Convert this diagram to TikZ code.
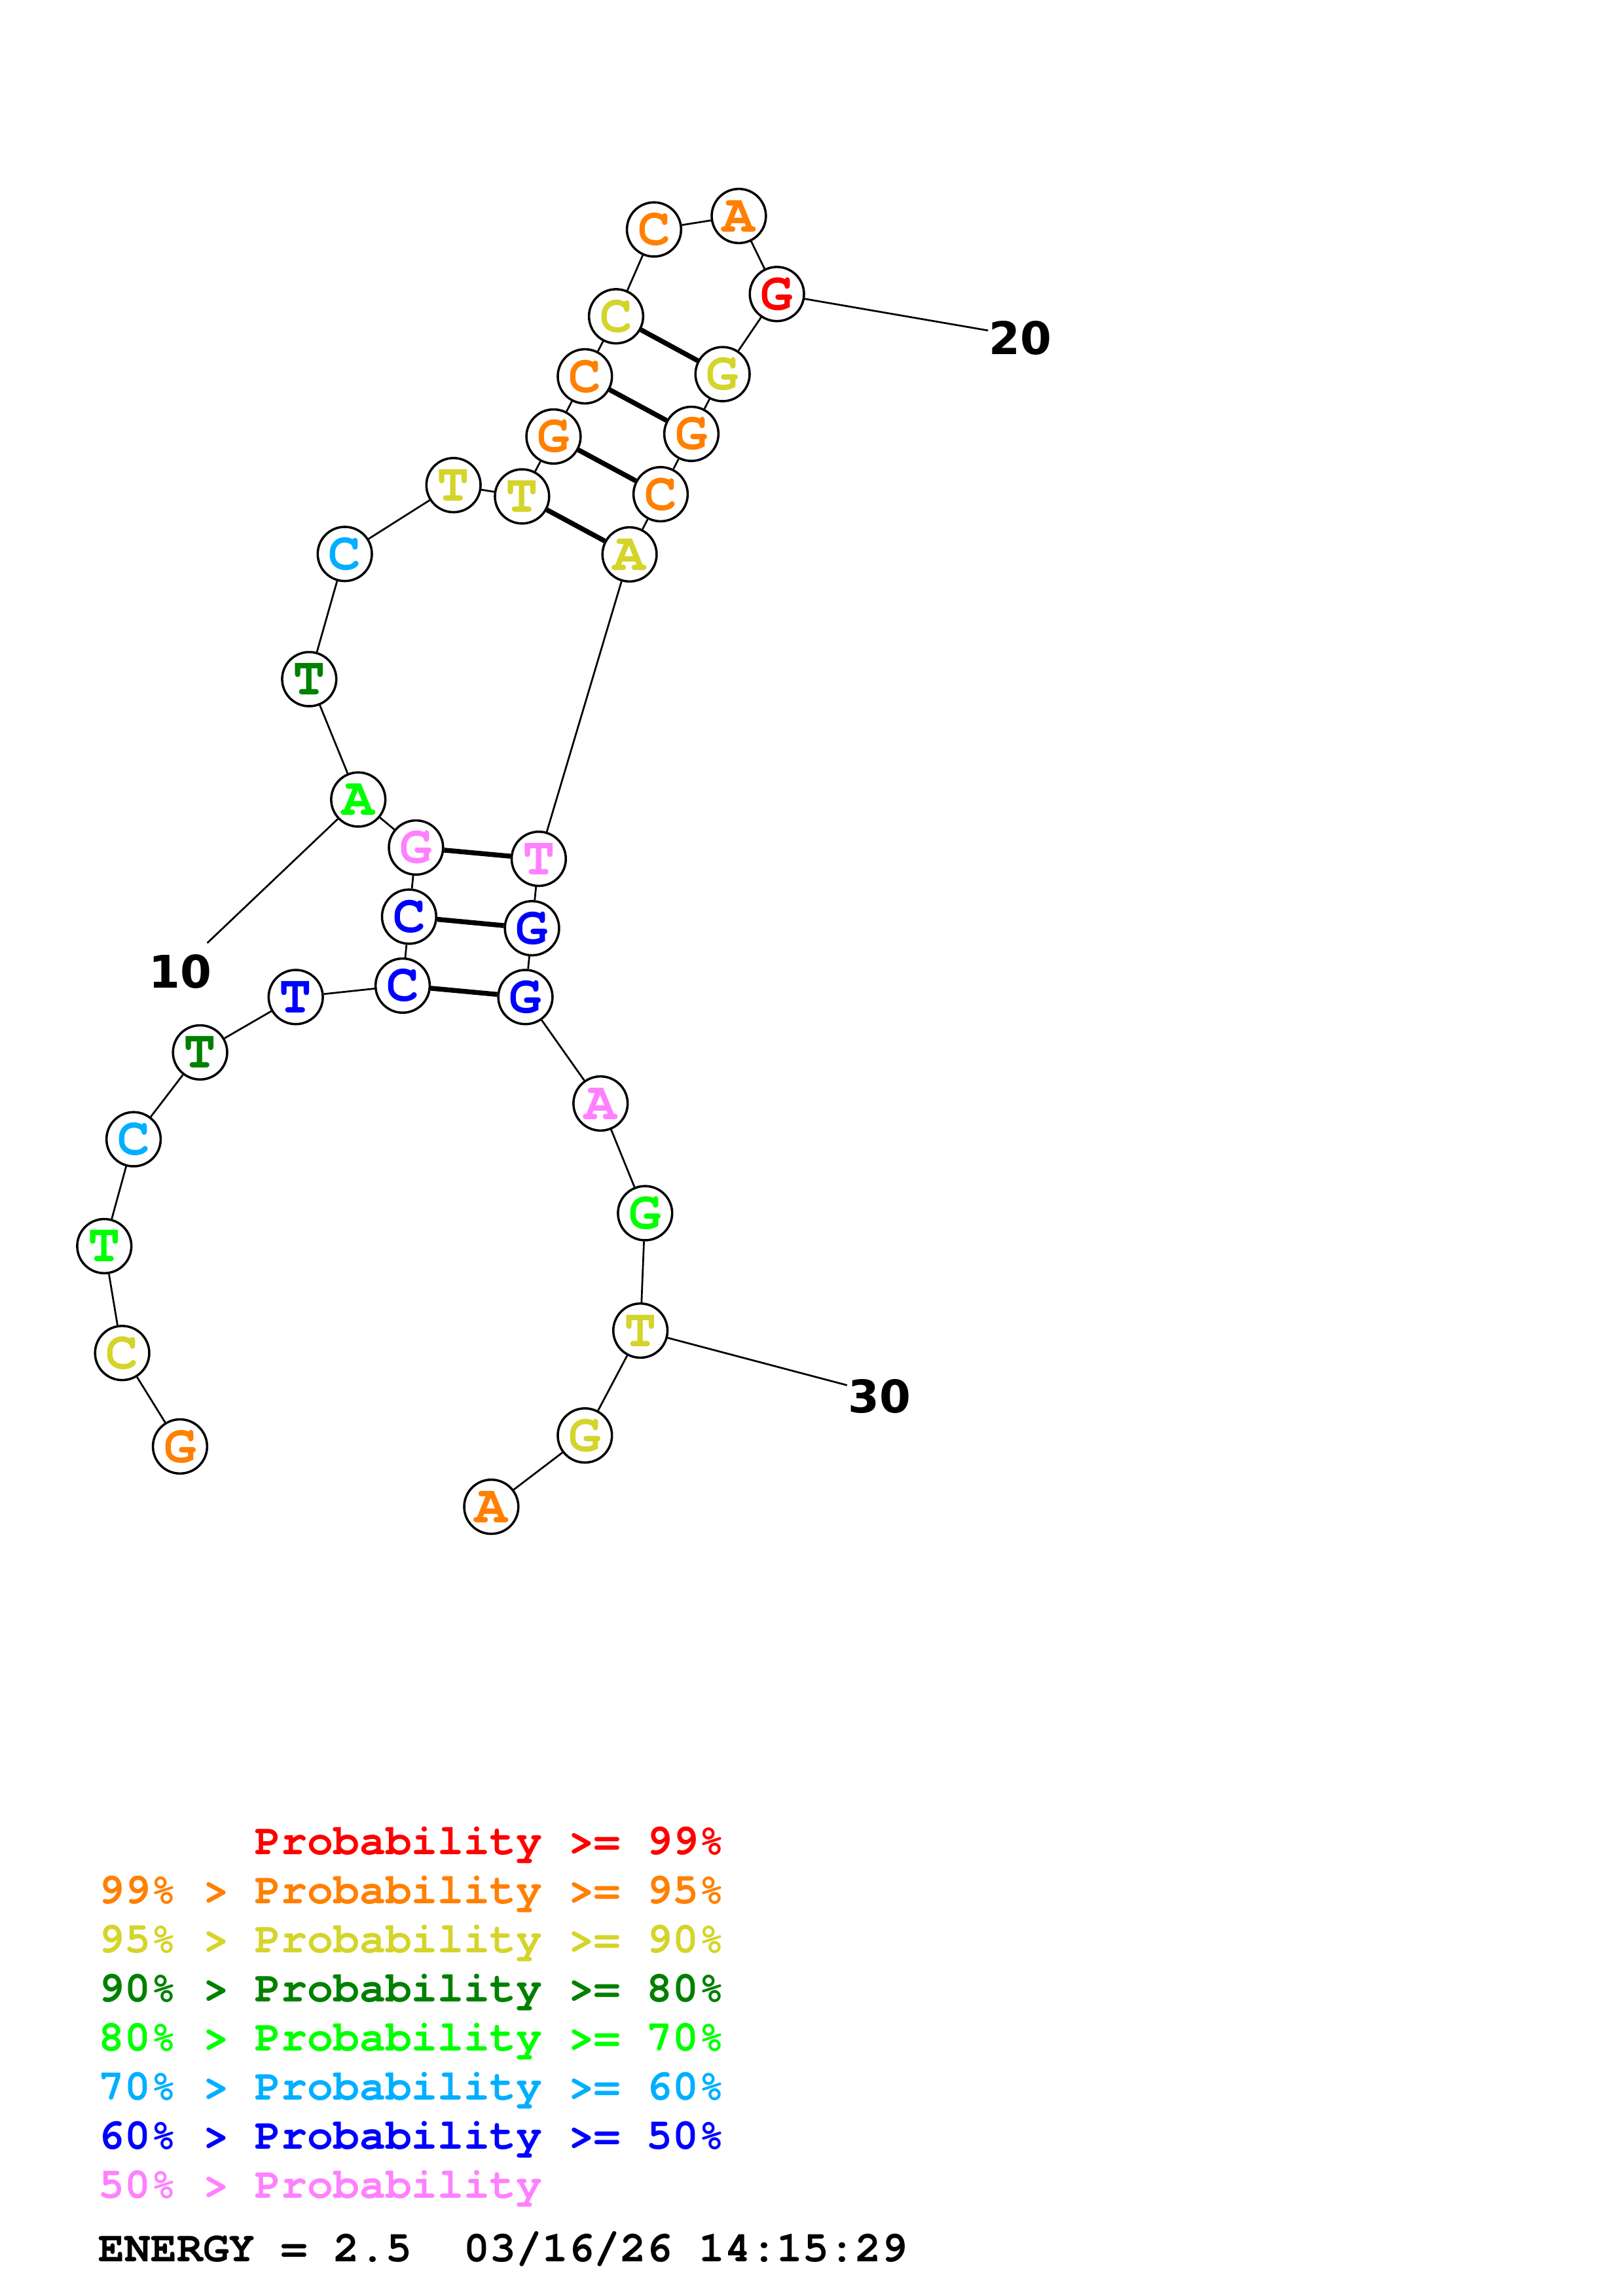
\documentclass[tikz,border=0pt]{standalone}
\usepackage{fontspec}
\setmonofont{TeX Gyre Cursor}
\newfontfamily\numfont{DejaVu Sans}
\definecolor{pred}{HTML}{FF0000}
\definecolor{porange}{HTML}{FF8000}
\definecolor{pyellow}{HTML}{D4D42A}
\definecolor{pdkgreen}{HTML}{008000}
\definecolor{plime}{HTML}{00FF00}
\definecolor{pltblue}{HTML}{00AFFF}
\definecolor{pblue}{HTML}{0000FF}
\definecolor{ppink}{HTML}{FF80FF}
\begin{document}
\begin{tikzpicture}[x=0.02cm,y=-0.02cm,
    nt/.style={circle,draw,line width=0.9pt,fill=white,inner sep=0pt,
      minimum size=0.74cm,text=#1,font=\ttfamily\bfseries\fontsize{21}{24}\selectfont},
    idx/.style={anchor=west,inner sep=0pt,font=\numfont\bfseries\fontsize{17.5}{20}\selectfont},
    legend/.style={anchor=base west,inner sep=0pt,text=#1,
      font=\ttfamily\bfseries\fontsize{16.9}{20}\selectfont}]
      \useasboundingbox (0,0) rectangle (1108,1568);
      \draw
        (122.9,987.8) node[nt=porange] (1){G}
        (83.4,924) node[nt=pyellow] (2){C}
        (71.2,851) node[nt=plime] (3){T}
        (91.2,778) node[nt=pltblue] (4){C}
        (136.6,718.7) node[nt=pdkgreen] (5){T}
        (201.9,680.9) node[nt=pblue] (6){T}
        (274.9,673.1) node[nt=pblue] (7){C}
        (279.3,626) node[nt=pblue] (8){C}
        (284,578.8) node[nt=ppink] (9){G}
        (244.6,546) node[nt=plime] (10){A}
        (211.1,463.8) node[nt=pdkgreen] (11){T}
        (235.4,378.3) node[nt=pltblue] (12){C}
        (309.6,331.3) node[nt=pyellow] (13){T}
        (356.4,339) node[nt=pyellow] (14){T}
        (377.9,298.1) node[nt=porange] (15){G}
        (399.3,257) node[nt=porange] (16){C}
        (420.6,216) node[nt=pyellow] (17){C}
        (446.5,156.7) node[nt=porange] (18){C}
        (504.4,147.5) node[nt=porange] (19){A}
        (530.4,200.8) node[nt=pred] (20){G}
        (493.3,255.5) node[nt=pyellow] (21){G}
        (472,296.3) node[nt=porange] (22){G}
        (451,337.5) node[nt=porange] (23){C}
        (429.8,378.6) node[nt=pyellow] (24){A}
        (367.8,586.5) node[nt=ppink] (25){T}
        (363.2,633.9) node[nt=pblue] (26){G}
        (358.7,680.9) node[nt=pblue] (27){G}
        (410,753.6) node[nt=ppink] (28){A}
        (440.4,828.5) node[nt=plime] (29){G}
        (437.2,908.7) node[nt=pyellow] (30){T}
        (399.3,980.3) node[nt=pyellow] (31){G}
        (335.4,1029) node[nt=porange] (32){A};
      \coordinate (m10) at (141.5,644);
      \coordinate (m20) at (674.6,225.7);
      \coordinate (m30) at (578.3,946);
      \node[idx] (l10) at (101.5,663.7) {10};
      \node[idx] (l20) at (675,231) {20};
      \node[idx] (l30) at (578.8,953.6) {30};
      \begin{scope}[-,line width=0.7pt]
        \draw (1) to (2);
        \draw (2) to (3);
        \draw (3) to (4);
        \draw (4) to (5);
        \draw (5) to (6);
        \draw (6) to (7);
        \draw (7) to (8);
        \draw (8) to (9);
        \draw (9) to (10);
        \draw (10) to (11);
        \draw (11) to (12);
        \draw (12) to (13);
        \draw (13) to (14);
        \draw (14) to (15);
        \draw (15) to (16);
        \draw (16) to (17);
        \draw (17) to (18);
        \draw (18) to (19);
        \draw (19) to (20);
        \draw (20) to (21);
        \draw (21) to (22);
        \draw (22) to (23);
        \draw (23) to (24);
        \draw (24) to (25);
        \draw (25) to (26);
        \draw (26) to (27);
        \draw (27) to (28);
        \draw (28) to (29);
        \draw (29) to (30);
        \draw (30) to (31);
        \draw (31) to (32);
        \draw (10) to (m10);
        \draw (20) to (m20);
        \draw (30) to (m30);
      \end{scope}
      \begin{scope}[-,line width=1.9pt]
        \draw (17) to (21);
        \draw (16) to (22);
        \draw (15) to (23);
        \draw (14) to (24);
        \draw (9) to (25);
        \draw (8) to (26);
        \draw (7) to (27);
      \end{scope}
      \node[legend=pred] (leg1) at (67,1266.5) {\hphantom{99\% > }Probability >= 99\%};
      \node[legend=porange] (leg2) at (67,1300) {99\% > Probability >= 95\%};
      \node[legend=pyellow] (leg3) at (67,1333.5) {95\% > Probability >= 90\%};
      \node[legend=pdkgreen] (leg4) at (67,1367) {90\% > Probability >= 80\%};
      \node[legend=plime] (leg5) at (67,1400.5) {80\% > Probability >= 70\%};
      \node[legend=pltblue] (leg6) at (67,1434) {70\% > Probability >= 60\%};
      \node[legend=pblue] (leg7) at (67,1467.5) {60\% > Probability >= 50\%};
      \node[legend=ppink] (leg8) at (67,1501) {50\% > Probability};
      \node[legend=black] (energy) at (67,1544.5) {ENERGY = 2.5\ \ 03/16/26 14:15:29};
    \end{tikzpicture}
\end{document}
